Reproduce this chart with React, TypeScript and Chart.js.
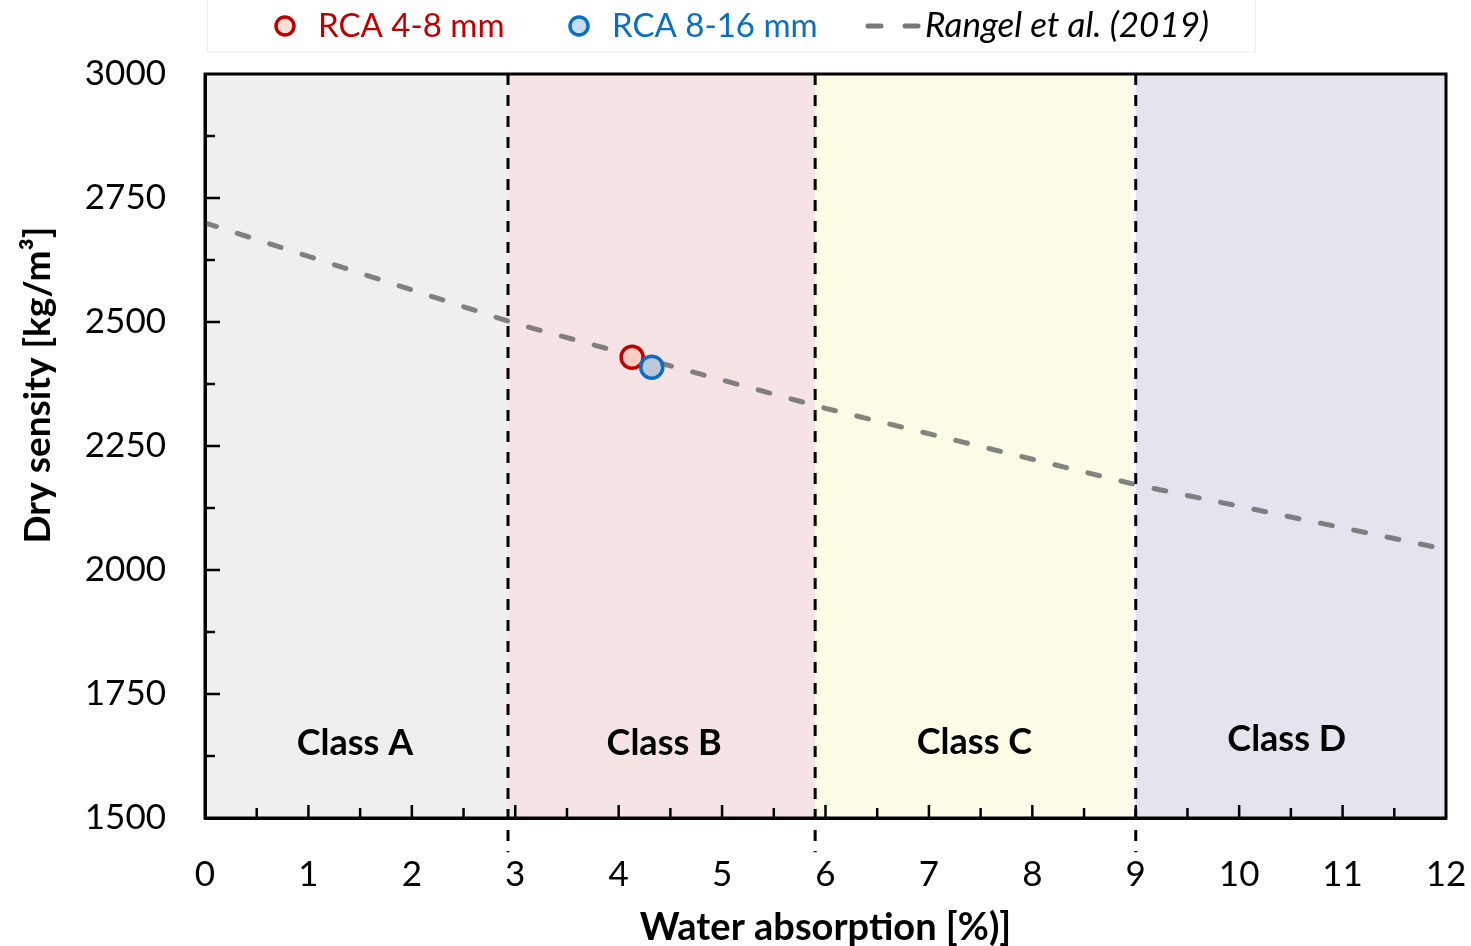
import React, { useEffect, useRef } from "react";
import { Chart, registerables } from "chart.js";

Chart.register(...registerables);

// ---------- data ----------
const xTickValues = [0, 1, 2, 3, 4, 5, 6, 7, 8, 9, 10, 11, 12];
const yTickValues = [1500, 1750, 2000, 2250, 2500, 2750, 3000];
const xMinorTicks = [0.5, 1, 1.5, 2, 2.5, 3, 3.5, 4, 4.5, 5, 5.5, 6, 6.5, 7, 7.5, 8, 8.5, 9, 9.5, 10, 10.5, 11, 11.5];
const yMinorTicks = [1625, 1750, 1875, 2000, 2125, 2250, 2375, 2500, 2625, 2750, 2875];

const rangelX = [0, 3, 6, 9, 11.9];
const rangelY = [2700, 2497, 2326, 2172, 2046];

const rca48X = [4.13];
const rca48Y = [2429];
const rca816X = [4.32];
const rca816Y = [2409];

const seriesLabels = ["RCA 4-8 mm", "RCA 8-16 mm", "Rangel et al. (2019)"];

const classNames = ["Class A", "Class B", "Class C", "Class D"];
const classStart = [0, 2.93, 5.9, 9.0];
const classEnd = [2.93, 5.9, 8.95, 12];
const classLabelX = [1.45, 4.44, 7.44, 10.46];
const classLabelY = [1627, 1627, 1629, 1635];
const classBoundaryX = [2.93, 5.9, 9.0];
const boundaryBottomY = 1431;

const xTitle = "Water absorption [%)]";
const yTitle = "Dry sensity [kg/m\u00B3]";

// ---------- styles ----------
const bandColors = ["#efefef", "#f6e4e4", "#fcfce6", "#e4e4ee"];
const RED = "#c00000";
const BLUE = "#0a6fbf";
const FONT = "Lato";

const decorPlugin = {
  id: "decor",
  beforeDraw(chart: any) {
    const { ctx, chartArea: a, scales } = chart;
    const x = scales.x;
    ctx.save();
    ctx.fillStyle = "#ffffff";
    ctx.fillRect(0, 0, chart.width, chart.height);
    for (let i = 0; i < classNames.length; i++) {
      const x0 = x.getPixelForValue(classStart[i]);
      const x1 = x.getPixelForValue(classEnd[i]);
      ctx.fillStyle = bandColors[i];
      ctx.fillRect(x0, a.top, x1 - x0, a.bottom - a.top);
    }
    ctx.restore();
  },
  beforeDatasetsDraw(chart: any) {
    const { ctx, chartArea: a, scales } = chart;
    const x = scales.x;
    const y = scales.y;
    ctx.save();
    ctx.strokeStyle = "#000";
    ctx.lineWidth = 3;
    ctx.setLineDash([11, 10]);
    for (const v of classBoundaryX) {
      const px = x.getPixelForValue(v);
      ctx.beginPath();
      ctx.moveTo(px, a.top);
      ctx.lineTo(px, y.getPixelForValue(boundaryBottomY));
      ctx.stroke();
    }
    ctx.restore();
  },
  afterDraw(chart: any) {
    const { ctx, chartArea: a, scales } = chart;
    const x = scales.x;
    const y = scales.y;
    ctx.save();
    // box
    ctx.strokeStyle = "#000";
    ctx.lineWidth = 3;
    ctx.strokeRect(a.left, a.top, a.right - a.left, a.bottom - a.top);
    // inward ticks
    ctx.lineWidth = 2.5;
    for (const v of xMinorTicks) {
      const px = x.getPixelForValue(v);
      const len = Number.isInteger(v) ? 13 : 10;
      ctx.beginPath();
      ctx.moveTo(px, a.bottom);
      ctx.lineTo(px, a.bottom - len);
      ctx.stroke();
    }
    for (const v of yMinorTicks) {
      const py = y.getPixelForValue(v);
      const len = v % 250 === 0 ? 15 : 10;
      ctx.beginPath();
      ctx.moveTo(a.left, py);
      ctx.lineTo(a.left + len, py);
      ctx.stroke();
    }
    // class labels
    ctx.fillStyle = "#000";
    ctx.font = `bold 36px ${FONT}`;
    ctx.textAlign = "center";
    ctx.textBaseline = "alphabetic";
    for (let i = 0; i < classNames.length; i++) {
      ctx.fillText(classNames[i], x.getPixelForValue(classLabelX[i]), y.getPixelForValue(classLabelY[i]));
    }
    // axis titles
    ctx.font = `bold 38px ${FONT}`;
    ctx.fillText(xTitle, (a.left + a.right) / 2, 940);
    ctx.save();
    ctx.translate(50, 385);
    ctx.rotate(-Math.PI / 2);
    ctx.font = `bold 37px ${FONT}`;
    ctx.fillText(yTitle, 0, 0);
    ctx.restore();

    // legend
    ctx.fillStyle = "#ffffff";
    ctx.fillRect(207, 0, 1048, 52);
    ctx.strokeStyle = "#eeeeee";
    ctx.lineWidth = 1;
    ctx.strokeRect(207.5, -1, 1048, 53);
    const drawMarker = (cx: number, fill: string, stroke: string) => {
      ctx.beginPath();
      ctx.arc(cx, 26, 9, 0, Math.PI * 2);
      ctx.fillStyle = fill;
      ctx.fill();
      ctx.lineWidth = 3.5;
      ctx.strokeStyle = stroke;
      ctx.stroke();
    };
    ctx.textAlign = "left";
    ctx.textBaseline = "alphabetic";
    drawMarker(285, "#fbe0d4", RED);
    ctx.font = `33px ${FONT}`;
    ctx.fillStyle = RED;
    ctx.fillText(seriesLabels[0], 318, 37);
    drawMarker(579, "#c5dbf0", BLUE);
    ctx.fillStyle = BLUE;
    ctx.fillText(seriesLabels[1], 612, 37);
    ctx.strokeStyle = "rgba(105,105,105,0.9)";
    ctx.lineWidth = 5;
    ctx.lineCap = "round";
    ctx.beginPath();
    ctx.moveTo(868, 26);
    ctx.lineTo(881, 26);
    ctx.moveTo(905, 26);
    ctx.lineTo(918, 26);
    ctx.stroke();
    ctx.font = `italic 35px ${FONT}`;
    ctx.fillStyle = "#000";
    ctx.fillText(seriesLabels[2], 925, 37);
    ctx.restore();
  },
};

export default function App() {
  const canvasRef = useRef<HTMLCanvasElement | null>(null);

  useEffect(() => {
    if (!canvasRef.current) return;
    Chart.defaults.font.family = FONT;
    const chart = new Chart(canvasRef.current, {
      type: "scatter",
      data: {
        datasets: [
          {
            type: "line",
            label: seriesLabels[2],
            data: rangelX.map((v, i) => ({ x: v, y: rangelY[i] })),
            borderColor: "rgba(100,100,100,0.8)",
            borderWidth: 5,
            borderDash: [12, 22],
            borderCapStyle: "round",
            pointRadius: 0,
            tension: 0,
            fill: false,
            order: 3,
          } as any,
          {
            label: seriesLabels[0],
            data: rca48X.map((v, i) => ({ x: v, y: rca48Y[i] })),
            pointRadius: 11,
            borderWidth: 3.5,
            borderColor: RED,
            backgroundColor: "#f6cfc0",
            order: 2,
          },
          {
            label: seriesLabels[1],
            data: rca816X.map((v, i) => ({ x: v, y: rca816Y[i] })),
            pointRadius: 11,
            borderWidth: 3.5,
            borderColor: BLUE,
            backgroundColor: "#bcc6dc",
            order: 1,
          },
        ],
      },
      options: {
        animation: false,
        responsive: true,
        maintainAspectRatio: false,
        layout: { padding: { top: 74, right: 25, left: 0, bottom: 0 } },
        plugins: { legend: { display: false }, tooltip: { enabled: false } },
        scales: {
          x: {
            type: "linear",
            min: 0,
            max: 12,
            afterBuildTicks: (s: any) => {
              s.ticks = xTickValues.map((v) => ({ value: v }));
            },
            ticks: {
              color: "#000",
              font: { family: FONT, size: 35 },
              padding: 36,
              maxRotation: 0,
              autoSkip: false,
              callback: (v: any) => String(v),
            },
            grid: { display: false, drawTicks: false },
            border: { display: true, color: "#000", width: 3 },
            afterFit: (s: any) => {
              s.height = 128;
              s.paddingLeft = 0;
              s.paddingRight = 0;
            },
          },
          y: {
            type: "linear",
            min: 1500,
            max: 3000,
            afterBuildTicks: (s: any) => {
              s.ticks = yTickValues.map((v) => ({ value: v }));
            },
            ticks: {
              color: "#000",
              font: { family: FONT, size: 35 },
              padding: 39,
              autoSkip: false,
              callback: (v: any) => String(v),
            },
            grid: { display: false, drawTicks: false },
            border: { display: true, color: "#000", width: 3 },
            afterFit: (s: any) => {
              s.width = 205;
              s.paddingTop = 0;
              s.paddingBottom = 0;
            },
          },
        },
      },
      plugins: [decorPlugin],
    });
    return () => chart.destroy();
  }, []);

  return (
    <div style={{ position: "absolute", left: 0, top: 0, width: 1471, height: 946 }}>
      <canvas ref={canvasRef} />
    </div>
  );
}
